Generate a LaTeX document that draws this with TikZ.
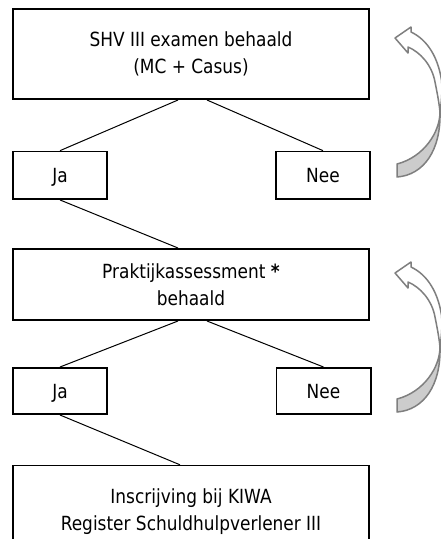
\documentclass[tikz,border=0pt]{standalone}
\usepackage{fontspec}
\setmainfont[FakeStretch=0.87]{DejaVu Sans}
\definecolor{arrowgray}{HTML}{7F7F7F}
\definecolor{arrowfill}{HTML}{CCCCCC}
\begin{document}
\begin{tikzpicture}[x=1pt,y=-1pt,
  box/.style={draw=black, line width=1.6pt, fill=white, align=center, inner sep=0pt,
    font=\fontsize{19.5}{26.5}\selectfont},
  widebox/.style={box, minimum width=356.4pt},
  smallbox/.style={box, minimum width=94.4pt, minimum height=47pt, text height=14.2pt, text depth=0pt},
  conn/.style={draw=black, line width=1pt},
  curvy/.style={draw=arrowgray, line width=1.5pt, line join=round},
]
\useasboundingbox (0,0) rectangle (441,539);
\clip (0,0) rectangle (441,539);

% boxes
\node[widebox, minimum height=90.4pt] (shv) at (191,54) {SHV III examen behaald\\(MC + Casus)};
\node[smallbox, minimum height=47.7pt] (ja1) at (60,175.3) {Ja};
\node[smallbox, minimum height=47.7pt] (nee1) at (323,175.3) {Nee};
\node[widebox, minimum height=71.4pt] (prak) at (191,284.5) {Praktijkassessment {\bfseries *}\\behaald};
\node[smallbox, minimum height=46.4pt] (ja2) at (60,391) {Ja};
\node[smallbox, minimum height=46.4pt] (nee2) at (323.5,391) {Nee};
\node[widebox, minimum height=120pt, anchor=north] (reg) at (191,464.8) {};
\node[align=center, inner sep=0pt, font=\fontsize{19.5}{26.5}\selectfont, anchor=north] (regtxt) at (191,488.5)
  {Inscrijving bij KIWA\\Register Schuldhulpverlener III};

% connectors
\draw[conn] ([xshift=-13pt]shv.south) -- (ja1.north);
\draw[conn] ([xshift=16pt]shv.south) -- (nee1.north);
\draw[conn] (ja1.south) -- ([xshift=-13pt]prak.north);
\draw[conn] ([xshift=-13pt]prak.south) -- (ja2.north);
\draw[conn] ([xshift=16pt]prak.south) -- (nee2.north);
\draw[conn] (ja2.south) -- ([xshift=-11pt]reg.north);

% curved return arrows
\foreach \dy in {0,235} {
  \begin{scope}[yshift=-\dy pt]
    \path[curvy, fill=arrowfill] (440,112) .. controls (440,132) and (424,157) .. (397,164)
      -- (397,177) .. controls (424,175) and (441,150) .. (440,112) -- cycle;
    \path[curvy, fill=white] (440,112) .. controls (441.5,102) and (442.5,90) .. (441.5,80)
      .. controls (438,58) and (428,40) .. (411,32) -- (411,27) -- (395,38) -- (408,53) -- (408,47)
      .. controls (420,52) and (432,65) .. (435,82) .. controls (437,92) and (439,102) .. (440,112) -- cycle;
  \end{scope}
}
\end{tikzpicture}
\end{document}
